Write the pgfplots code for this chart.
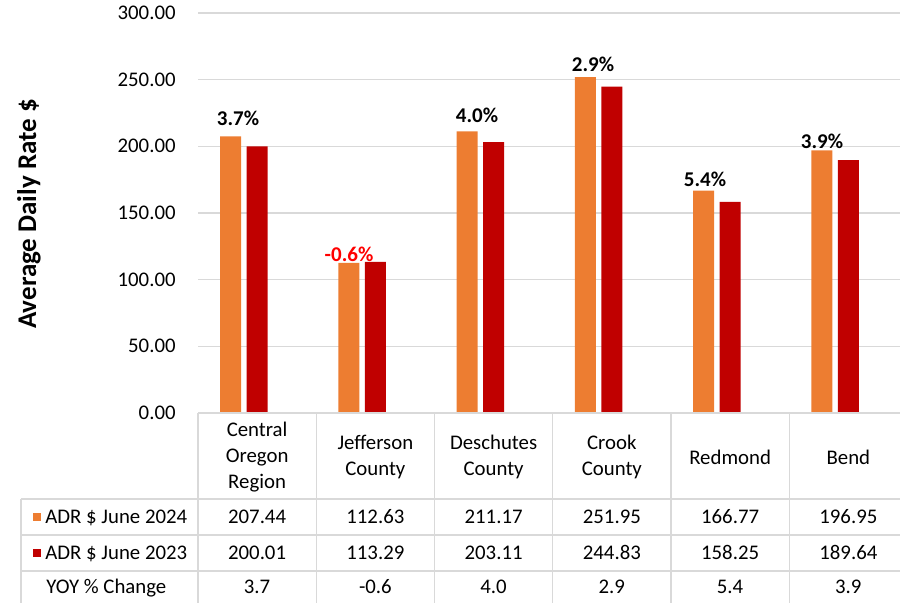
\documentclass[border=0pt]{standalone}
\usepackage{pgfplots}
\pgfplotsset{compat=1.18}
\usepackage{fontspec}
\setmainfont{Carlito}
\definecolor{orng}{HTML}{ED7D31}
\definecolor{dred}{HTML}{C00000}
\definecolor{grd}{HTML}{D9D9D9}
\newcommand{\tf}{\fontsize{10.4}{13}\selectfont}
\newcommand{\blf}{\fontsize{10.5}{13}\selectfont\bfseries}
\begin{document}
\begin{tikzpicture}
\useasboundingbox (0,0) rectangle (450pt,301.5pt);
\clip (0,0) rectangle (450pt,301.5pt);
\begin{axis}[
  at={(99pt,95pt)}, anchor=south west,
  scale only axis, width=354.75pt, height=200pt,
  xmin=-0.5, xmax=5.5, ymin=0, ymax=300,
  ytick={0,50,...,300},
  xtick=\empty,
  axis line style={draw=none},
  major tick length=0pt,
  ymajorgrids, grid style={grd, line width=0.6pt},
  tick label style={font=\tf},
  yticklabel style={anchor=east, inner sep=0pt, xshift=-11pt, /pgf/number format/.cd,fixed,fixed zerofill,precision=2,assume math mode=true},
  ybar, bar width=10.5pt,
  clip=false,
]
\addplot[fill=orng, draw=none, bar shift=-13.25pt] coordinates {(0,207.44) (1,112.63) (2,211.17) (3,251.95) (4,166.77) (5,196.95)};
\addplot[fill=dred, draw=none, bar shift=0pt] coordinates {(0,200.01) (1,113.29) (2,203.11) (3,244.83) (4,158.25) (5,189.64)};
\end{axis}
\begin{scope}[shift={(0,301.5pt)}, x=0.5pt, y=-0.5pt]
  % bar labels
  \node[font=\blf, anchor=base, inner sep=0pt] at (238,126) {3.7\%};
  \node[font=\blf, anchor=base, inner sep=0pt, text={rgb,255:red,255;green,0;blue,0}] at (349,262) {-0.6\%};
  \node[font=\blf, anchor=base, inner sep=0pt] at (477,123) {4.0\%};
  \node[font=\blf, anchor=base, inner sep=0pt] at (593,72) {2.9\%};
  \node[font=\blf, anchor=base, inner sep=0pt] at (705,187) {5.4\%};
  \node[font=\blf, anchor=base, inner sep=0pt] at (822,149) {3.9\%};
  % y title
  \node[font=\fontsize{13.5}{16}\selectfont\bfseries, rotate=90, anchor=base, inner sep=0pt] at (36,214) {Average Daily Rate \$};
  % table lines
  \draw[grd, line width=0.7pt] (198,413) -- (910,413);
  \foreach \yy in {499,535,571} \draw[grd, line width=0.7pt] (21,\yy) -- (910,\yy);
  \draw[grd, line width=0.7pt] (21,499) -- (21,610);
  \foreach \k in {0,...,6} \draw[grd, line width=0.7pt] ({198+118.25*\k},413) -- ({198+118.25*\k},610);
  % header labels
  \foreach \lab [count=\i from 0] in {{Central\\Oregon\\Region},{Jefferson\\County},{Deschutes\\County},{Crook\\County},{Redmond},{Bend}}
    \node[font=\tf, align=center, inner sep=0pt] at ({257.1+118.25*\i},457) {\lab};
  % rows
  \foreach \v [count=\i from 0] in {207.44,112.63,211.17,251.95,166.77,196.95}
    \node[font=\tf, anchor=base, inner sep=0pt] at ({257.1+118.25*\i},523.6) {\v};
  \foreach \v [count=\i from 0] in {200.01,113.29,203.11,244.83,158.25,189.64}
    \node[font=\tf, anchor=base, inner sep=0pt] at ({257.1+118.25*\i},559.6) {\v};
  \foreach \v [count=\i from 0] in {3.7,-0.6,4.0,2.9,5.4,3.9}
    \node[font=\tf, anchor=base, inner sep=0pt] at ({257.1+118.25*\i},593.6) {\v};
  % legend keys
  \fill[orng] (33,513) rectangle (41,521);
  \fill[dred] (33,549) rectangle (41,557);
  \node[font=\tf, anchor=base west, inner sep=0pt] at (45,523.6) {ADR \$ June 2024};
  \node[font=\tf, anchor=base west, inner sep=0pt] at (45,559.6) {ADR \$ June 2023};
  \node[font=\tf, anchor=base west, inner sep=0pt] at (46,593.6) {YOY \% Change};
\end{scope}
\end{tikzpicture}
\end{document}
